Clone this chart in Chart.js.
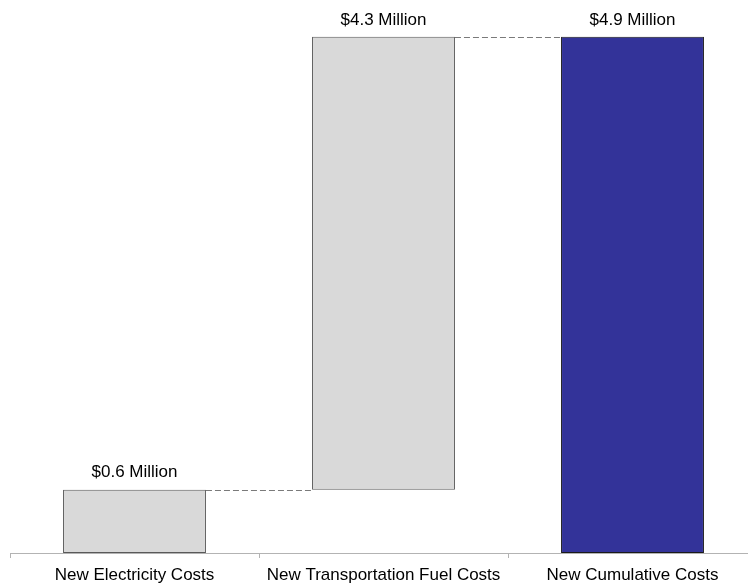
<!DOCTYPE html>
<html>
<head>
<meta charset="utf-8">
<script src="https://cdn.jsdelivr.net/npm/chart.js@4"></script>
<style>
  html, body { margin: 0; padding: 0; background: #fff; overflow: hidden; }
  #wrap { width: 760px; height: 583px; }
</style>
</head>
<body>
<div id="wrap"><canvas id="costChart" width="760" height="583"></canvas></div>
<script>
const categories = ['New Electricity Costs', 'New Transportation Fuel Costs', 'New Cumulative Costs'];
const amounts = [0.6, 4.3, 4.9]; // $ million
const isTotal = [false, false, true];
const barColors = ['#d9d9d9', '#d9d9d9', '#333399'];
const borderColors = ['#595959', '#595959', '#1a1a1a'];

const FONT = '"Liberation Sans", Arial, sans-serif';

// Build floating ranges: steps stack on each other, totals start from zero
let running = 0;
const ranges = amounts.map((v, i) => {
  if (isTotal[i]) return [0, v];
  const r = [running, running + v];
  running += v;
  return r;
});

// Value labels and dashed connectors between bars
const waterfallExtras = {
  id: 'waterfallExtras',
  afterDatasetsDraw(chart) {
    const ctx = chart.ctx;
    const meta = chart.getDatasetMeta(0);
    const y = chart.scales.y;

    ctx.save();
    ctx.strokeStyle = '#7a7a7a';
    ctx.lineWidth = 1;
    ctx.setLineDash([6, 3]);
    for (let i = 0; i < meta.data.length - 1; i++) {
      const a = meta.data[i].getProps(['x', 'width']);
      const b = meta.data[i + 1].getProps(['x', 'width']);
      const py = Math.round(y.getPixelForValue(ranges[i][1])) + 0.5;
      ctx.beginPath();
      ctx.moveTo(a.x + a.width / 2, py);
      ctx.lineTo(b.x - b.width / 2, py);
      ctx.stroke();
    }
    ctx.setLineDash([]);

    ctx.fillStyle = '#000';
    ctx.font = '17px ' + FONT;
    ctx.textAlign = 'center';
    ctx.textBaseline = 'middle';
    meta.data.forEach((bar, i) => {
      const top = y.getPixelForValue(ranges[i][1]);
      ctx.fillText('$' + amounts[i].toFixed(1) + ' Million', bar.x, top - 17);
    });
    ctx.restore();
  }
};

new Chart(document.getElementById('costChart'), {
  type: 'bar',
  data: {
    labels: categories,
    datasets: [{
      data: ranges,
      backgroundColor: barColors,
      borderColor: borderColors,
      borderWidth: 1,
      borderSkipped: false,
      categoryPercentage: 1,
      barPercentage: 0.574
    }]
  },
  options: {
    responsive: false,
    animation: false,
    layout: { padding: { left: 10, right: 3, top: 0, bottom: 0 } },
    plugins: {
      legend: { display: false },
      tooltip: { enabled: false }
    },
    scales: {
      x: {
        offset: true,
        afterFit: (scale) => { scale.height = 30; },
        grid: {
          offset: true,
          drawOnChartArea: false,
          tickLength: 5,
          color: '#b3b3b3'
        },
        border: { color: '#b3b3b3' },
        ticks: {
          color: '#000',
          padding: 9,
          maxRotation: 0,
          font: { family: FONT, size: 17, lineHeight: 1 }
        }
      },
      y: {
        display: false,
        min: 0,
        max: 5.25
      }
    }
  },
  plugins: [waterfallExtras]
});
</script>
</body>
</html>
